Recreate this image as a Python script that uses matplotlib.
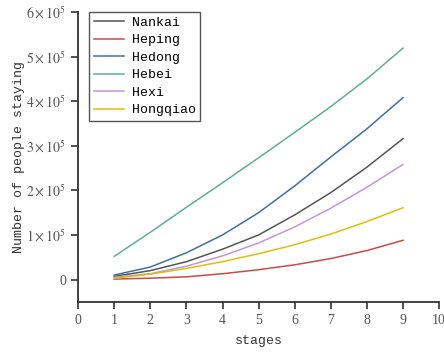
import numpy as np
import matplotlib.pyplot as plt
import matplotlib.ticker as mticker

# stages on the x axis
stages = [1, 2, 3, 4, 5, 6, 7, 8, 9]

# number of people staying per district
nankai = [0.07e5, 0.20e5, 0.40e5, 0.68e5, 1.00e5, 1.45e5, 1.95e5, 2.52e5, 3.16e5]
heping = [0.01e5, 0.03e5, 0.06e5, 0.13e5, 0.22e5, 0.33e5, 0.47e5, 0.65e5, 0.88e5]
hedong = [0.10e5, 0.28e5, 0.60e5, 1.00e5, 1.50e5, 2.10e5, 2.75e5, 3.38e5, 4.08e5]
hebei = [0.52e5, 1.06e5, 1.62e5, 2.17e5, 2.73e5, 3.30e5, 3.88e5, 4.50e5, 5.19e5]
hexi = [0.05e5, 0.13e5, 0.30e5, 0.53e5, 0.82e5, 1.18e5, 1.60e5, 2.07e5, 2.58e5]
hongqiao = [0.03e5, 0.12e5, 0.25e5, 0.40e5, 0.58e5, 0.78e5, 1.02e5, 1.30e5, 1.61e5]

names = ['Nankai', 'Heping', 'Hedong', 'Hebei', 'Hexi', 'Hongqiao']
colors = ['#555555', '#c94a4a', '#3d70a3', '#5fae94', '#c495d6', '#d8c20a']

plt.rcParams['mathtext.fontset'] = 'stix'
plt.rcParams['font.family'] = 'Liberation Serif'

fig = plt.figure(figsize=(4.44, 3.53), dpi=100)
ax = fig.add_axes([0.176, 0.145, 0.813, 0.821])

series = [nankai, heping, hedong, hebei, hexi, hongqiao]
for vals, name, col in zip(series, names, colors):
    ax.plot(stages, vals, color=col, lw=1.1, label=name)

ax.set_xlim(0, 10)
ax.set_ylim(-0.5e5, 6e5)
ax.set_xticks(range(0, 11))
ax.set_yticks([0, 1e5, 2e5, 3e5, 4e5, 5e5, 6e5])


def fmt(v, pos):
    n = int(round(v / 1e5))
    if n == 0:
        return '0'
    return r'$%d\times10^5$' % n


ax.yaxis.set_major_formatter(mticker.FuncFormatter(fmt))

for s in ['top', 'right']:
    ax.spines[s].set_visible(False)
for s in ['left', 'bottom']:
    ax.spines[s].set_color('#333333')
    ax.spines[s].set_linewidth(1.3)
ax.tick_params(direction='out', length=5, width=1.2, color='#333333',
               labelsize=10, labelcolor='#555555')

ax.set_xlabel('stages', fontsize=9.5, family='Liberation Mono', color='#333333',
              labelpad=6)
ax.set_ylabel('Number of people staying', fontsize=9.5, family='Liberation Mono',
              color='#333333', labelpad=1)

leg = ax.legend(loc='upper left', bbox_to_anchor=(0.03, 1.0), borderaxespad=0,
                fancybox=False, framealpha=1, edgecolor='#555555',
                prop={'family': 'Liberation Mono', 'size': 9.5},
                handlelength=2.3, handletextpad=0.6, labelspacing=0.4,
                borderpad=0.35)
leg.get_frame().set_linewidth(1.0)

fig.savefig('out.png', dpi=100)
